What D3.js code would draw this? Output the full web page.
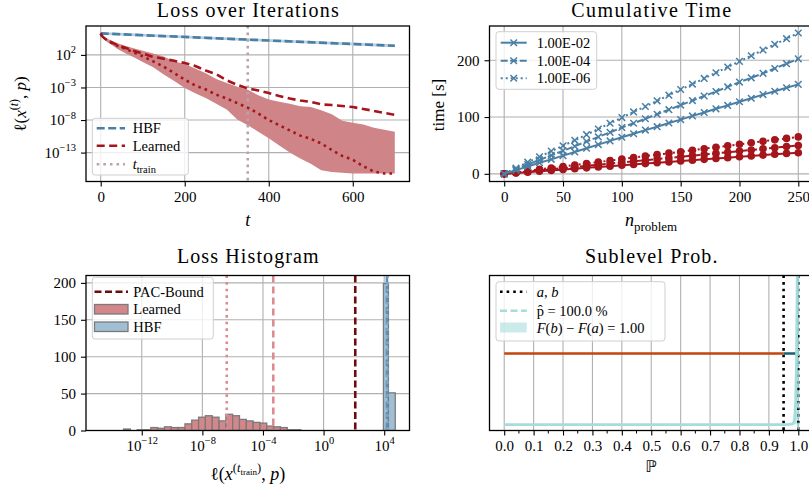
<!DOCTYPE html>
<html><head><meta charset="utf-8">
<script src="https://cdn.jsdelivr.net/npm/d3@7"></script>
<style>
body{margin:0;background:#fff;}
svg{display:block;}
</style></head><body>
<script>
// ---------------- data ----------------
// Loss over iterations (values are log10 of the loss)
const iterT          = [0,3,8,15,25,40,60,80,100,125,150,175,200,225,250,275,300,325,350,375,400,425,450,475,500,525,550,575,600,625,650,675,700];
const learnedMeanLog = [5.3,4.9,4.6,4.3,3.95,3.5,3.05,2.6,2.2,1.7,1.4,1.1,0.75,0.3,-0.4,-0.95,-1.9,-2.6,-3.15,-3.45,-3.85,-4.3,-4.7,-5.0,-5.2,-5.6,-5.7,-5.85,-6.0,-6.3,-6.6,-6.9,-7.2];
const learnedMedLog  = [5.3,4.9,4.6,4.25,3.9,3.4,2.9,2.35,1.8,1.0,0.2,-0.8,-1.8,-2.7,-3.3,-4.1,-4.7,-5.4,-6.1,-7.0,-8.0,-8.8,-9.6,-10.4,-10.9,-11.6,-12.6,-13.5,-14.1,-15.1,-15.9,-16.2,-16.2];
const learnedHiLog   = [5.3,5.0,4.75,4.5,4.2,3.8,3.35,3.0,2.65,2.2,1.75,1.0,0.6,-0.1,-0.8,-1.7,-2.3,-2.9,-3.35,-4.2,-4.85,-5.2,-5.5,-5.9,-6.0,-6.5,-7.1,-8.1,-8.4,-8.7,-9.2,-9.5,-9.8];
const learnedLoLog   = [5.3,4.8,4.4,4.0,3.6,2.9,2.2,1.6,0.9,0.1,-1.0,-2.0,-3.1,-3.9,-4.6,-5.5,-6.4,-7.9,-8.8,-9.8,-10.8,-11.9,-13.0,-13.9,-14.7,-15.7,-16.0,-16.1,-16.2,-16.2,-16.2,-16.2,-16.2];
const hbfT           = [0,350,700];
const hbfLog         = [5.3,4.35,3.4];
const hbfHiLog       = [5.5,4.57,3.62];
const hbfLoLog       = [5.1,4.13,3.18];
const tTrain = 350;
const lossYTicks = [2,-3,-8,-13];
const iterXTicks = [0,200,400,600];

// Cumulative time
const nProblem   = [0,10,20,30,40,50,60,70,80,90,100,110,120,130,140,150,160,170,180,190,200,210,220,230,240,250];
const hbfTime2   = [0,6.5,13,19.5,25.5,32,38.5,45,51.5,58,64.5,70.5,77,83,89.5,95.5,102,108,114.5,120.5,127,133,139.5,145.5,151.5,157.5];
const hbfTime4   = [0,8.5,16.5,24.5,32.5,40.5,48.5,57,65,73,81.5,89,97,105,113,121,129,137,145,153,161.5,169,177,185.5,194,202.5];
const hbfTime6   = [0,10,20.5,30,40,49.5,59,69,79,89,99,109,118.5,128.5,138.5,148.5,158,168,178,188,198,208,218,228,238,248];
const lrnTime2   = [0,1.5,3,4.5,6,7.5,9,10.5,12,13.5,15,16.5,18,19.5,21,22.5,24,25.5,27,28.5,30,31.5,33,34.5,36,37];
const lrnTime4   = [0,2,4,6,8,10,12,14,16,18,20,22,24,26,28,30,32,34,36,38,40,42,44,46,48,50];
const lrnTime6   = [0,2.6,5.2,7.8,10.4,13,15.6,18.2,20.8,23.4,26,28.6,31.2,33.8,36.4,39,41.6,44.2,46.8,49.4,52,54.6,57.2,59.8,62.4,65];
const tolLabels  = ["1.00E-02","1.00E-04","1.00E-06"];
const timeXTicks = [0,50,100,150,200,250];
const timeYTicks = [0,100,200];

// Loss histogram (bin edges are log10 of the loss)
const learnedBinLo = [-13.2,-12.75,-12.3,-11.85,-11.4,-10.95,-10.5,-10.05,-9.6,-9.15,-8.7,-8.25,-7.8,-7.35,-6.9,-6.45,-6.0,-5.55,-5.1,-4.65,-4.2,-3.75,-3.3,-2.85,-2.4,-1.95];
const learnedCount = [2,0,1,1,4,3,5,4,4,9,14,18,20,18,13,22,20,15,13,11,10,6,5,4,1,1];
const learnedBinW  = 0.45;
const hbfBinLo     = [3.95,4.28];
const hbfBinHi     = [4.28,4.73];
const hbfCount     = [199,51];
const pacBoundLog  = 2.09;
const learnedMeanAtTrain = -3.32;
const learnedMedAtTrain  = -6.39;
const hbfMeanAtTrain     = 4.18;
const hbfMedAtTrain      = 4.22;
const histXTicks = [-12,-8,-4,0,4];
const histYTicks = [0,50,100,150,200];

// Sublevel probability
const pdfP       = [0,0.2,0.4,0.6,0.8,0.9,0.95,0.97,0.98,0.985,0.988,0.991,0.994,0.997,1.0];
const pdfDensity = [0,0,0,0,0,0,0,0.001,0.004,0.015,0.05,0.16,0.45,1.2,3.0];
const boundA = 0.95, boundB = 1.0, pHat = 1.0;
const intervalLevel = 0.5, intervalEnd = 0.993;
const probXTicks = [0,0.1,0.2,0.3,0.4,0.5,0.6,0.7,0.8,0.9,1.0];
const probMinorTicks = [0.05,0.15,0.25,0.35,0.45,0.55,0.65,0.75,0.85,0.95];

// ---------------- drawing ----------------
const FONT = '"Liberation Serif","DejaVu Serif",serif';
const BLUE = "#4a7fa5", RED = "#a5151c", BAND = "#cf8488", GRID = "#b0b0b0";
const svg = d3.select("body").append("svg").attr("width",809).attr("height",490)
  .attr("font-family",FONT);

// text with superscripts / subscripts; parts: {t, i, off (em), size (fraction)}
function rich(sel, parts, base){
  let cur = 0;
  parts.forEach(p=>{
    const off = (p.off||0)*base;
    const ts = sel.append("tspan").text(p.t);
    if (off - cur !== 0) ts.attr("dy", off - cur);
    cur = off;
    if (p.size) ts.attr("font-size", p.size*base);
    if (p.i) ts.attr("font-style","italic");
  });
  return sel;
}
const sup = s => ({t:s, off:-0.45, size:0.7});
function powParts(e){ return [{t:"10"}, sup(e<0 ? "\u2212"+(-e) : String(e))]; }
const pow10 = e => Math.pow(10,e);
const expOf = v => Math.round(Math.log10(v));

function panel(P, id){
  const g = svg.append("g");
  g.append("clipPath").attr("id",id).append("rect")
    .attr("x",P.x0).attr("y",P.y0).attr("width",P.x1-P.x0).attr("height",P.y1-P.y0);
  return g;
}
function frame(g,P){
  g.append("rect").attr("x",P.x0).attr("y",P.y0).attr("width",P.x1-P.x0).attr("height",P.y1-P.y0)
    .attr("fill","none").attr("stroke","#000").attr("stroke-width",1.3);
}
function gridX(g,P,x,vals){
  g.append("g").selectAll("line").data(vals).join("line")
    .attr("x1",d=>x(d)).attr("x2",d=>x(d)).attr("y1",P.y0).attr("y2",P.y1)
    .attr("stroke",GRID).attr("stroke-width",1.1);
}
function gridY(g,P,y,vals){
  g.append("g").selectAll("line").data(vals).join("line")
    .attr("y1",d=>y(d)).attr("y2",d=>y(d)).attr("x1",P.x0).attr("x2",P.x1)
    .attr("stroke",GRID).attr("stroke-width",1.1);
}
function styleAxis(ax){
  ax.select(".domain").remove();
  ax.selectAll(".tick line").attr("stroke","#000").attr("stroke-width",1.1);
  ax.selectAll(".tick text").attr("fill","#000").attr("font-size",15).attr("font-family",FONT);
  return ax;
}
function bottomAxis(g,P,x,vals,fmt){
  const ax = g.append("g").attr("transform",`translate(0,${P.y1})`)
    .call(d3.axisBottom(x).tickValues(vals).tickSize(5).tickPadding(5).tickFormat(fmt||(d=>d)));
  return styleAxis(ax);
}
function leftAxis(g,P,y,vals,fmt){
  const ax = g.append("g").attr("transform",`translate(${P.x0},0)`)
    .call(d3.axisLeft(y).tickValues(vals).tickSize(5).tickPadding(5).tickFormat(fmt||(d=>d)));
  return styleAxis(ax);
}
function powTicks(ax){
  ax.selectAll(".tick text").each(function(d){
    const t = d3.select(this); t.text(null);
    rich(t, powParts(expOf(d)), 15);
  });
}
function title(P, y, txt, len){
  svg.append("text").attr("x",(P.x0+P.x1)/2).attr("y",y).attr("text-anchor","middle")
    .attr("font-size",20).attr("textLength",len).attr("lengthAdjust","spacing").text(txt);
}
function legendBox(g,x,y,w,h){
  g.append("rect").attr("x",x).attr("y",y).attr("width",w).attr("height",h).attr("rx",3)
    .attr("fill","#fff").attr("fill-opacity",0.8).attr("stroke","#cfcfcf").attr("stroke-width",1);
}
function legendLine(g,x0,x1,y,color,dash,w){
  g.append("line").attr("x1",x0).attr("x2",x1).attr("y1",y).attr("y2",y)
    .attr("stroke",color).attr("stroke-width",w||2.6).attr("stroke-dasharray",dash||null);
}
function legendText(g,x,y,parts){
  const t = g.append("text").attr("x",x).attr("y",y+5).attr("font-size",14.5);
  rich(t, typeof parts === "string" ? [{t:parts}] : parts, 14.5);
}

// ===== Loss over Iterations =====
{
  const P = {x0:86,x1:409.5,y0:26,y1:181.5};
  const g = panel(P,"clipTL");
  const x = d3.scaleLinear().domain([-35,735]).range([P.x0,P.x1]);
  const y = d3.scaleLog().domain([pow10(-17.44),pow10(6.44)]).range([P.y1,P.y0]);
  const ly = v => y(pow10(v));
  gridX(g,P,x,iterXTicks);
  gridY(g,P,ly,lossYTicks);
  const d = g.append("g").attr("clip-path","url(#clipTL)");
  d.append("path").datum(iterT.map((t,i)=>[t,learnedLoLog[i],learnedHiLog[i]]))
    .attr("fill",BAND)
    .attr("d",d3.area().x(p=>x(p[0])).y0(p=>ly(p[1])).y1(p=>ly(p[2])));
  d.append("path").datum(hbfT.map((t,i)=>[t,hbfLoLog[i],hbfHiLog[i]]))
    .attr("fill","#b9d0e1")
    .attr("d",d3.area().x(p=>x(p[0])).y0(p=>ly(p[1])).y1(p=>ly(p[2])));
  d.append("line").attr("x1",x(tTrain)).attr("x2",x(tTrain)).attr("y1",P.y0).attr("y2",P.y1)
    .attr("stroke","#b8a3ad").attr("stroke-width",2.6).attr("stroke-dasharray","2.6,4");
  const line = d3.line().x(p=>x(p[0])).y(p=>ly(p[1]));
  d.append("path").datum(hbfT.map((t,i)=>[t,hbfLog[i]])).attr("fill","none")
    .attr("stroke",BLUE).attr("stroke-width",2.6).attr("stroke-dasharray","8,3.5").attr("d",line);
  d.append("path").datum(iterT.map((t,i)=>[t,learnedMeanLog[i]])).attr("fill","none")
    .attr("stroke",RED).attr("stroke-width",2.6).attr("stroke-dasharray","8,4.5").attr("d",line);
  d.append("path").datum(iterT.map((t,i)=>[t,learnedMedLog[i]])).attr("fill","none")
    .attr("stroke",RED).attr("stroke-width",2.6).attr("stroke-dasharray","2.6,4").attr("d",line);
  frame(g,P);
  bottomAxis(g,P,x,iterXTicks);
  powTicks(leftAxis(g,P,y,lossYTicks.map(pow10)));
  title(P,16.5,"Loss over Iterations",182);
  rich(svg.append("text").attr("x",(P.x0+P.x1)/2).attr("y",226).attr("text-anchor","middle").attr("font-size",18),
    [{t:"t",i:true}],18);
  rich(svg.append("text").attr("transform","translate(26,104) rotate(-90)").attr("text-anchor","middle").attr("font-size",17),
    [{t:"\u2113("},{t:"x",i:true},{t:"(",off:-0.45,size:0.7},{t:"t",i:true,off:-0.45,size:0.7},{t:")",off:-0.45,size:0.7},{t:", "},{t:"p",i:true},{t:")"}],17);
  const L = g.append("g");
  legendBox(L,92.3,118.3,96,56.7);
  legendLine(L,96.7,125,128.3,BLUE,"8,3.5");
  legendLine(L,96.7,125,145.7,RED,"8,4.5");
  legendLine(L,96.7,125,164.3,"#b8a3ad","2.6,4");
  legendText(L,132.7,128.3,"HBF");
  legendText(L,132.7,145.7,"Learned");
  legendText(L,132.7,164.3,[{t:"t",i:true},{t:"train",off:0.25,size:0.72}]);
}

// ===== Cumulative Time =====
{
  const P = {x0:489.5,x1:813,y0:26,y1:181.5};
  const g = panel(P,"clipTR");
  const x = d3.scaleLinear().domain([-12.5,262.5]).range([P.x0,P.x1]);
  const y = d3.scaleLinear().domain([-13.5,260.3]).range([P.y1,P.y0]);
  gridX(g,P,x,timeXTicks);
  gridY(g,P,y,timeYTicks);
  const d = g.append("g").attr("clip-path","url(#clipTR)");
  const styles = [null,"7,2.5","2,3"];
  const line = d3.line().x(p=>x(p[0])).y(p=>y(p[1]));
  [lrnTime2,lrnTime4,lrnTime6].forEach((s,k)=>{
    const pts = nProblem.map((n,i)=>[n,s[i]]);
    d.append("path").datum(pts).attr("fill","none").attr("stroke",RED).attr("stroke-width",2)
      .attr("stroke-dasharray",styles[k]).attr("d",line);
    d.append("g").selectAll("circle").data(pts).join("circle")
      .attr("cx",p=>x(p[0])).attr("cy",p=>y(p[1])).attr("r",3.8).attr("fill",RED);
  });
  const cross = d3.symbol().type(d3.symbolX).size(30);
  [hbfTime2,hbfTime4,hbfTime6].forEach((s,k)=>{
    const pts = nProblem.map((n,i)=>[n,s[i]]);
    d.append("path").datum(pts).attr("fill","none").attr("stroke",BLUE).attr("stroke-width",2)
      .attr("stroke-dasharray",styles[k]).attr("d",line);
    d.append("g").selectAll("path").data(pts).join("path")
      .attr("transform",p=>`translate(${x(p[0])},${y(p[1])})`).attr("d",cross)
      .attr("fill","none").attr("stroke",BLUE).attr("stroke-width",1.5);
  });
  frame(g,P);
  bottomAxis(g,P,x,timeXTicks);
  leftAxis(g,P,y,timeYTicks);
  title(P,16.5,"Cumulative Time",160);
  svg.append("text").attr("transform","translate(444,105) rotate(-90)").attr("text-anchor","middle")
    .attr("font-size",17).text("time [s]");
  rich(svg.append("text").attr("x",651).attr("y",226).attr("text-anchor","middle").attr("font-size",18),
    [{t:"n",i:true},{t:"problem",off:0.25,size:0.72}],18);
  const L = g.append("g");
  legendBox(L,496,31.7,100.7,57.6);
  [42.7,60.7,78.3].forEach((yy,k)=>{
    legendLine(L,500.7,526.7,yy,BLUE,styles[k],2);
    L.append("path").attr("transform",`translate(513.7,${yy})`).attr("d",cross)
      .attr("fill","none").attr("stroke",BLUE).attr("stroke-width",1.5);
    legendText(L,536.7,yy,tolLabels[k]);
  });
}

// ===== Loss Histogram =====
{
  const P = {x0:86,x1:409.5,y0:275.5,y1:430.5};
  const g = panel(P,"clipBL");
  const x = d3.scaleLog().domain([pow10(-15.68),pow10(5.67)]).range([P.x0,P.x1]);
  const lx = v => x(pow10(v));
  const y = d3.scaleLinear().domain([0,210]).range([P.y1,P.y0]);
  gridX(g,P,lx,histXTicks);
  gridY(g,P,y,histYTicks);
  const d = g.append("g").attr("clip-path","url(#clipBL)");
  const vline = (v,color,dash)=>d.append("line").attr("x1",lx(v)).attr("x2",lx(v)).attr("y1",P.y0).attr("y2",P.y1)
    .attr("stroke",color).attr("stroke-width",2.6).attr("stroke-dasharray",dash);
  d.append("g").selectAll("rect").data(learnedCount.map((c,i)=>[learnedBinLo[i],c])).join("rect")
    .attr("x",p=>lx(p[0])).attr("width",p=>lx(p[0]+learnedBinW)-lx(p[0]))
    .attr("y",p=>y(p[1])).attr("height",p=>y(0)-y(p[1]))
    .attr("fill","#d4878b").attr("stroke","#7a7a7a").attr("stroke-width",1.3);
  d.append("g").selectAll("rect").data(hbfCount.map((c,i)=>[hbfBinLo[i],hbfBinHi[i],c])).join("rect")
    .attr("x",p=>lx(p[0])).attr("width",p=>lx(p[1])-lx(p[0]))
    .attr("y",p=>y(p[2])).attr("height",p=>y(0)-y(p[2]))
    .attr("fill","#a0bfd5").attr("stroke","#7a7a7a").attr("stroke-width",1.3);
  vline(learnedMedAtTrain,"#dc8b8f","2.6,4");
  vline(learnedMeanAtTrain,"#dc8b8f","7,4");
  vline(pacBoundLog,"#700b0b","7,3.5");
  vline(hbfMeanAtTrain,"#5d90b6","7,3.5");
  vline(hbfMedAtTrain,"#7fa8c8","2.6,4");
  frame(g,P);
  powTicks(bottomAxis(g,P,x,histXTicks.map(pow10)));
  leftAxis(g,P,y,histYTicks);
  title(P,262.5,"Loss Histogram",141.7);
  rich(svg.append("text").attr("x",(P.x0+P.x1)/2).attr("y",480).attr("text-anchor","middle").attr("font-size",18),
    [{t:"\u2113("},{t:"x",i:true},{t:"(",off:-0.45,size:0.7},{t:"t",i:true,off:-0.45,size:0.7},
     {t:"train",off:-0.3,size:0.5},{t:")",off:-0.45,size:0.7},{t:", "},{t:"p",i:true},{t:")"}],18);
  const L = g.append("g");
  legendBox(L,92.3,277.3,121,61.7);
  legendLine(L,94.5,128,291.7,"#700b0b","7,3.5");
  L.append("rect").attr("x",94.5).attr("y",304.5).attr("width",33.5).attr("height",9.5)
    .attr("fill","#d4878b").attr("stroke","#7a7a7a").attr("stroke-width",1.3);
  L.append("rect").attr("x",94.5).attr("y",322).attr("width",33.5).attr("height",9.5)
    .attr("fill","#a0bfd5").attr("stroke","#7a7a7a").attr("stroke-width",1.3);
  legendText(L,133.3,291.7,"PAC-Bound");
  legendText(L,133.3,309.3,"Learned");
  legendText(L,133.3,326.7,"HBF");
}

// ===== Sublevel Prob. =====
{
  const P = {x0:489.5,x1:813,y0:275.5,y1:430.5};
  const g = panel(P,"clipBR");
  const x = d3.scaleLinear().domain([-0.05,1.05]).range([P.x0,P.x1]);
  const y = d3.scaleLinear().domain([-0.042,1.049]).range([P.y1,P.y0]);
  gridX(g,P,x,probXTicks);
  const d = g.append("g").attr("clip-path","url(#clipBR)");
  const pdfPts = pdfP.map((p,i)=>[p,pdfDensity[i]]);
  d.append("path").datum(pdfPts.filter(p=>p[0]>=boundA && p[0]<=boundB))
    .attr("fill","#a9dede").attr("fill-opacity",0.6)
    .attr("d",d3.area().x(p=>x(p[0])).y0(y(0)).y1(p=>y(p[1])));
  const vdot = v=>d.append("line").attr("x1",x(v)).attr("x2",x(v)).attr("y1",P.y0).attr("y2",P.y1+3)
    .attr("stroke","#000").attr("stroke-width",2.6).attr("stroke-dasharray","2.6,4");
  vdot(boundA); vdot(boundB);
  d.append("line").attr("x1",x(0)).attr("x2",x(boundA)).attr("y1",y(intervalLevel)).attr("y2",y(intervalLevel))
    .attr("stroke","#c4440e").attr("stroke-width",2.6);
  d.append("line").attr("x1",x(boundA)).attr("x2",x(intervalEnd)).attr("y1",y(intervalLevel)).attr("y2",y(intervalLevel))
    .attr("stroke","#1c5e72").attr("stroke-width",2.6);
  d.append("path").datum(pdfPts).attr("fill","none").attr("stroke","#a6dcdc").attr("stroke-width",2.8)
    .attr("d",d3.line().x(p=>x(p[0])).y(p=>y(p[1])));
  d.append("line").attr("x1",x(pHat)).attr("x2",x(pHat)).attr("y1",P.y0).attr("y2",P.y1)
    .attr("stroke","#8fd2d2").attr("stroke-width",2).attr("stroke-dasharray","7,3.5").attr("opacity",0.85);
  frame(g,P);
  bottomAxis(g,P,x,probXTicks,d3.format(".1f"));
  g.append("g").selectAll("line").data(probMinorTicks).join("line")
    .attr("x1",v=>x(v)).attr("x2",v=>x(v)).attr("y1",P.y1).attr("y2",P.y1+3).attr("stroke","#000").attr("stroke-width",1);
  title(P,262.5,"Sublevel Prob.",132.3);
  svg.append("text").attr("x",651).attr("y",472).attr("text-anchor","middle").attr("font-size",16)
    .attr("font-family",'"DejaVu Sans",sans-serif').text("\u2119");
  const L = g.append("g");
  legendBox(L,496,281.7,169,59.3);
  legendLine(L,500,526.7,291.7,"#000","2.6,4");
  legendLine(L,500,526.7,310.7,"#a6dcdc","7,3.5");
  L.append("rect").attr("x",500).attr("y",322.5).attr("width",26.7).attr("height",10)
    .attr("fill","#a9dede").attr("fill-opacity",0.6);
  legendText(L,536.7,291.7,[{t:"a",i:true},{t:", "},{t:"b",i:true}]);
  legendText(L,536.7,310.7,[{t:"p\u0302"},{t:" = 100.0 %"}]);
  legendText(L,536.7,327.7,[{t:"F",i:true},{t:"("},{t:"b",i:true},{t:") \u2212 "},{t:"F",i:true},{t:"("},{t:"a",i:true},{t:") = 1.00"}]);
}
</script>
</body></html>
